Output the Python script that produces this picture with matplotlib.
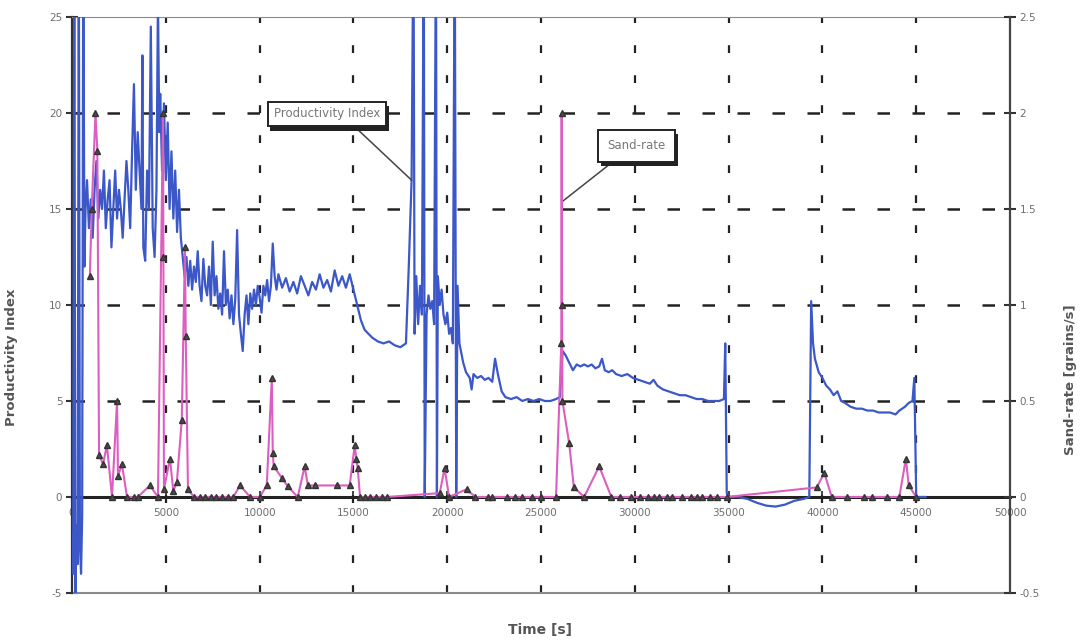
import matplotlib
matplotlib.use('Agg')
import matplotlib.pyplot as plt
import matplotlib.patheffects as pe

plt.rcParams['axes.unicode_minus'] = False

# productivity index (left axis)
pi_time = [0, 60, 120, 180, 240, 300, 360, 420, 480, 540, 600, 660, 720,
           800, 900, 1000, 1100, 1200, 1300, 1400, 1500, 1600, 1700, 1800, 1900,
           2000, 2100, 2200, 2300, 2400, 2500, 2600, 2700, 2800, 2900, 3000,
           3100, 3200, 3300, 3400, 3500, 3600, 3700, 3750, 3800, 3900, 4000,
           4100, 4200, 4300, 4400, 4500, 4580, 4650, 4700, 4800, 4900, 5000,
           5100, 5200, 5300, 5400, 5500, 5600, 5700, 5800, 5900,
           6000, 6100, 6200, 6300, 6400, 6500, 6600, 6700, 6800, 6900, 7000,
           7100, 7200, 7300, 7400, 7500, 7600, 7700, 7800, 7900, 8000, 8100,
           8200, 8300, 8400, 8500, 8600, 8700, 8800, 8900, 9000, 9100, 9200,
           9300, 9400, 9500, 9600, 9700, 9800, 9900, 10000,
           10100, 10200, 10300, 10400, 10500, 10600, 10700, 10800, 10900, 11000,
           11200, 11400, 11600, 11800, 12000, 12200, 12400, 12600, 12800, 13000,
           13200, 13400, 13600, 13800, 14000, 14200, 14400, 14600, 14800, 15000,
           15200, 15400, 15600, 15800, 16000, 16300, 16600, 16900, 17200, 17500,
           17800, 17950, 18100, 18200, 18260, 18350, 18450, 18550, 18650, 18750,
           18800, 18900, 19000, 19100, 19200, 19300, 19400, 19450, 19500, 19600,
           19700, 19800, 19900, 20000, 20100, 20200, 20300, 20400, 20480, 20550,
           20650, 20750, 20850, 21000, 21200, 21300, 21400, 21600, 21800, 22000,
           22200, 22400, 22550, 22700, 22900, 23100, 23400, 23700, 24000, 24300,
           24600, 24900, 25200, 25500, 25800, 26000, 26150, 26300, 26500, 26700,
           26900, 27100, 27300, 27500, 27700, 27900, 28100, 28250, 28400, 28600,
           28800, 29000, 29300, 29600, 29900, 30200, 30500, 30800, 31000, 31200,
           31500, 31800, 32100, 32400, 32700, 33000, 33300, 33600, 33900, 34200,
           34500, 34750, 34820, 34900, 35000, 35500, 36000, 36500, 37000, 37500,
           38000, 38500, 39000, 39300, 39400, 39500, 39600, 39800, 40000, 40200,
           40400, 40600, 40800, 41000, 41200, 41500, 41800, 42100, 42400, 42700,
           43000, 43300, 43600, 43900, 44100, 44400, 44600, 44800, 44900, 45000,
           45500]
pi_value = [-2, -4, 30, -5.5, -1.5, -3.5, 30, -2.5, -4, -1, 30, 12, 15,
            16.5, 14, 15.5, 13.5, 16, 17.5, 14.5, 16, 15, 17, 14, 15.5,
            16.5, 13, 15, 17, 14.5, 16, 15, 13.5, 15.5, 17.5, 16,
            14, 18, 21.5, 16, 19, 17, 15, 23, 13, 12.3, 17,
            15, 24.5, 14, 12.5, 16, 26, 19, 21, 17, 20.5, 16.5,
            19.5, 15, 18, 14.5, 17, 13.8, 16, 13.5, 12.5,
            11.5, 12.5, 11, 12.3, 10.8, 12, 11.2, 12.8, 11, 10.2, 12.4,
            11, 10.5, 12, 10, 13.3, 10.5, 11.5, 9.8, 10.6, 9.5, 12.8,
            10, 10.8, 9.3, 10.5, 9, 10.3, 13.9, 9.5, 8.5, 7.6, 9.5,
            10.5, 9, 10.6, 9.8, 10.8, 10, 11, 10.4,
            9.6, 11, 10.5, 11.3, 10.2, 11, 13.2, 11.5, 10.8, 11.6,
            10.9, 11.4, 10.7, 11.2, 10.6, 11.5, 11, 10.5, 11.2, 10.8,
            11.6, 10.9, 11.3, 10.7, 11.8, 11, 11.5, 10.9, 11.6, 10.8,
            10, 9.2, 8.7, 8.5, 8.3, 8.1, 8.0, 8.1, 7.9, 7.8,
            8.0, 12, 16.5, 30, 8.5, 11.5, 9, 11, 9.5, 30,
            0, 9.5, 10.5, 9.8, 10.2, 9, 30, 0, 11.5, 10,
            10.8, 9.5, 9, 9.6, 8.5, 8.8, 8, 30, 0, 11,
            8, 7.5, 7, 6.5, 6.2, 5.6, 6.4, 6.2, 6.3, 6.1,
            6.2, 6.0, 7.2, 6.4, 5.5, 5.2, 5.1, 5.2, 5.0, 5.1,
            5.0, 5.1, 5.0, 5.0, 5.1, 5.2, 7.6, 7.4, 7.0, 6.6,
            6.9, 6.8, 6.9, 6.8, 6.9, 6.7, 6.8, 7.2, 6.6, 6.5,
            6.6, 6.4, 6.3, 6.4, 6.2, 6.1, 6.0, 5.9, 6.1, 5.8,
            5.6, 5.5, 5.4, 5.3, 5.3, 5.2, 5.1, 5.1, 5.0, 5.0,
            5.0, 5.1, 8.0, 0.2, 0, 0, -0.1, -0.3, -0.45, -0.5,
            -0.4, -0.2, -0.1, 0, 10.2, 8.0, 7.2, 6.5, 6.2, 5.8,
            5.6, 5.3, 5.5, 5.0, 4.9, 4.7, 4.6, 4.6, 4.5, 4.5,
            4.4, 4.4, 4.4, 4.3, 4.5, 4.7, 4.9, 5.0, 6.2, 0,
            0]

# sand rate (right axis)
sand_time = [950, 1050, 1250, 1350, 1440, 1650, 1860, 2130, 2400, 2450, 2660,
             2930, 3300, 3510, 4150, 4580, 4850, 4870, 4900, 5220, 5400, 5590,
             5850, 6020, 6060, 6180, 6500, 6800, 7100, 7400, 7700, 8000, 8300,
             8600, 8950, 9500, 10000, 10380, 10650, 10700, 10750, 11180, 11500,
             12030, 12400, 12570, 12940, 14100, 14800, 15070, 15150, 15230,
             15350, 15600, 15900, 16200, 16500, 16800, 19600, 19860, 20100,
             21030, 21500, 22150, 22400, 23200, 23600, 24000, 24500, 25000,
             25800, 26080, 26100, 26120, 26140, 26500, 26750, 27300, 28100,
             28750, 29200, 29800, 30300, 30700, 31000, 31300, 31700, 32000,
             32500, 33000, 33300, 33600, 34000, 34400, 34900, 39700, 40100,
             40500, 41300, 42200, 42650, 43450, 44100, 44450, 44600, 45000]
sand_rate = [1.15, 1.5, 2.0, 1.8, 0.22, 0.17, 0.27, 0, 0.5, 0.11, 0.17,
             0, 0, 0, 0.06, 0, 2.0, 1.25, 0.04, 0.2, 0.03, 0.08,
             0.4, 1.3, 0.84, 0.04, 0, 0, 0, 0, 0, 0, 0,
             0, 0.06, 0, 0, 0.06, 0.62, 0.23, 0.16, 0.1, 0.055,
             0, 0.16, 0.06, 0.06, 0.06, 0.06, 0.27, 0.2, 0.15,
             0, 0, 0, 0, 0, 0, 0.02, 0.15, 0,
             0.04, 0, 0, 0, 0, 0, 0, 0, 0,
             0, 0.8, 2.0, 1.0, 0.5, 0.28, 0.05, 0, 0.16,
             0, 0, 0, 0, 0, 0, 0, 0, 0,
             0, 0, 0, 0, 0, 0, 0, 0.05, 0.125,
             0, 0, 0, 0, 0, 0, 0.2, 0.06, 0]

tick_grey = '#6e6e6e'

fig = plt.figure(figsize=(10.8, 6.43), dpi=100)
ax = fig.add_axes([0.0667, 0.0778, 0.8685, 0.8958])
ax2 = ax.twinx()

ax.plot(pi_time, pi_value, color='#3b57c8', lw=1.6, zorder=3)
ax2.plot(sand_time, sand_rate, color='#dc5ec0', lw=1.5, zorder=3)
ax2.plot(sand_time, sand_rate, ls='none', marker='^', ms=4.5,
         mfc='#4a4a4a', mec='#333333', zorder=4)

ax.set_xlim(0, 50000)
ax.set_ylim(-5, 25)
ax2.set_ylim(-0.5, 2.5)
ax.set_xticks(range(0, 50001, 5000))
ax.set_yticks(range(-5, 26, 5))
ax2.set_yticks([-0.5, 0, 0.5, 1, 1.5, 2, 2.5])
ax2.set_yticklabels(['-0.5', '0', '0.5', '1', '1.5', '2', '2.5'])

# dashed grid, drawn by hand so the zero line stays solid
for y in [5, 10, 15, 20]:
    ax.axhline(y, color='#222222', lw=1.8, ls=(0, (5, 9)), zorder=1)
for x in range(5000, 50000, 5000):
    ax.axvline(x, color='#222222', lw=1.6, ls=(0, (3.5, 10)), zorder=1)
ax.axhline(-5, color='#8a8a8a', lw=1.5, zorder=2, clip_on=False)

ax.spines['bottom'].set_position(('data', 0))
ax.spines['bottom'].set_linewidth(2.2)
ax.spines['bottom'].set_color('#222222')
ax.spines['top'].set_color('#8a8a8a')
ax.spines['left'].set_color('#333333')
ax.spines['left'].set_linewidth(1.6)
for s in ['top', 'bottom', 'left']:
    ax2.spines[s].set_visible(False)
ax2.spines['right'].set_color('#444444')
ax2.spines['right'].set_linewidth(1.6)
ax.spines['right'].set_visible(False)

ax.tick_params(axis='x', direction='inout', length=8, width=1.2,
               labelsize=7.5, labelcolor=tick_grey, color='#222222', pad=4)
ax.tick_params(axis='y', direction='inout', length=8, width=1.5,
               labelsize=7.5, labelcolor=tick_grey, color='#333333', pad=3)
ax2.tick_params(axis='y', direction='inout', length=8, width=1.5,
                labelsize=7.5, labelcolor=tick_grey, color='#333333', pad=3)

ax.set_xlabel('Time [s]', fontsize=10, fontweight='bold', color='#555555')
ax.xaxis.set_label_coords(0.499, -0.052)
ax.set_ylabel('Productivity Index', fontsize=9.5, fontweight='bold', color='#555555')
ax.yaxis.set_label_coords(-0.058, 0.41)
ax2.set_ylabel('Sand-rate [grains/s]', fontsize=9.5, fontweight='bold', color='#555555')
ax2.yaxis.set_label_coords(1.058, 0.37)

shadow = [pe.SimplePatchShadow(offset=(2, -3), shadow_rgbFace='#222222', alpha=1),
          pe.Normal()]
a1 = ax.annotate('Productivity Index', xy=(18100, 16.5), xytext=(13580, 19.95),
                 fontsize=8.5, color='#777777', ha='center', va='center', zorder=6,
                 bbox=dict(boxstyle='square,pad=0.5', fc='white', ec='#222222', lw=1.4),
                 arrowprops=dict(arrowstyle='-', color='#444444', lw=1.1,
                                 relpos=(0.7, 0), shrinkA=0, shrinkB=0))
a1.get_bbox_patch().set_path_effects(shadow)
a2 = ax.annotate('Sand-rate', xy=(26150, 15.4), xytext=(30100, 18.3),
                 fontsize=8.5, color='#777777', ha='center', va='center', zorder=6,
                 bbox=dict(boxstyle='square,pad=0.8', fc='white', ec='#222222', lw=1.4),
                 arrowprops=dict(arrowstyle='-', color='#444444', lw=1.1,
                                 relpos=(0.3, 0), shrinkA=0, shrinkB=0))
a2.get_bbox_patch().set_path_effects(shadow)
ax2.set_zorder(ax.get_zorder() + 1)
ax2.patch.set_visible(False)

plt.savefig('out.png', dpi=100)
